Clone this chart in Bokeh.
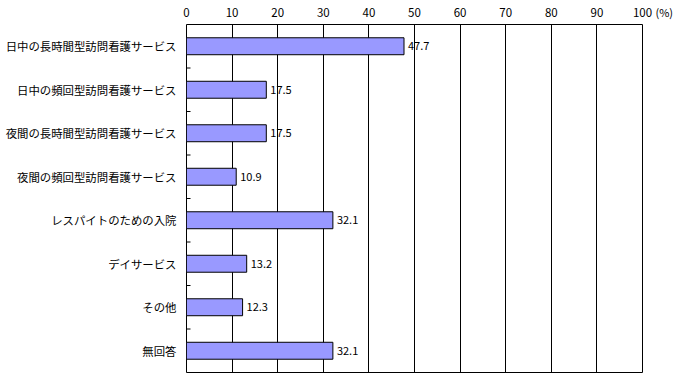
from bokeh.plotting import figure
from bokeh.models import FactorRange, Range1d, FixedTicker, ColumnDataSource, Label
from bokeh.core.properties import value
from bokeh.embed import file_html
from bokeh.resources import INLINE

categories = [
    "日中の長時間型訪問看護サービス",
    "日中の頻回型訪問看護サービス",
    "夜間の長時間型訪問看護サービス",
    "夜間の頻回型訪問看護サービス",
    "レスパイトのための入院",
    "デイサービス",
    "その他",
    "無回答",
]
values = [47.7, 17.5, 17.5, 10.9, 32.1, 13.2, 12.3, 32.1]
x_ticks = [0, 10, 20, 30, 40, 50, 60, 70, 80, 90, 100]
unit_label = "(%)"

FONT = "Noto Sans CJK JP"

p = figure(
    width=679, height=376,
    y_range=FactorRange(factors=list(reversed(categories)), range_padding=0),
    x_range=Range1d(0, 100),
    x_axis_location="above",
    output_backend="svg", toolbar_location=None,
    min_border_left=186, min_border_right=37, min_border_top=24, min_border_bottom=4,
)
p.background_fill_color = "white"
p.border_fill_color = "white"
p.outline_line_color = "black"
p.outline_line_width = 1

src = ColumnDataSource(dict(cat=categories, val=values,
                            lab=[f"{v:.1f}" for v in values]))
p.hbar(y="cat", right="val", left=0, height=0.39, source=src,
       fill_color="#9999FF", line_color="black", line_width=1)
p.text(x="val", y="cat", text="lab", source=src, x_offset=4,
       text_baseline="middle", text_align="left",
       text_font=value(FONT), text_font_size="11px", text_color="black")

# boundary ticks on the inside of the left axis
bounds = [(c, -0.5) for c in categories[:-1]]
p.ray(x=[0] * len(bounds), y=bounds, length=4, length_units="screen",
      angle=0, line_color="black", line_width=1)

# unit label, placed in the right-hand panel next to the "100" tick label
p.add_layout(Label(x=13, x_units="screen", y=361, y_units="screen",
                   text=unit_label, text_baseline="middle", text_align="left",
                   text_font=FONT, text_font_size="11px", text_color="black"), "right")

xa = p.xaxis[0]
xa.ticker = FixedTicker(ticks=x_ticks)
xa.axis_line_color = None
xa.major_tick_line_color = None
xa.minor_tick_line_color = None
xa.major_tick_in = 0
xa.major_tick_out = 0
xa.minor_tick_in = 0
xa.minor_tick_out = 0
xa.major_label_text_font = FONT
xa.major_label_text_font_size = "11.5px"
xa.major_label_text_color = "black"
xa.major_label_standoff = 8

ya = p.yaxis[0]
ya.axis_line_color = None
ya.major_tick_line_color = None
ya.minor_tick_line_color = None
ya.major_tick_in = 0
ya.major_tick_out = 0
ya.minor_tick_in = 0
ya.minor_tick_out = 0
ya.major_label_text_font = FONT
ya.major_label_text_font_size = "11.4px"
ya.major_label_text_color = "black"
ya.major_label_standoff = 10

p.xgrid.grid_line_color = "black"
p.xgrid.grid_line_width = 1
p.ygrid.grid_line_color = None

open("out.html", "w").write(file_html(p, INLINE))
